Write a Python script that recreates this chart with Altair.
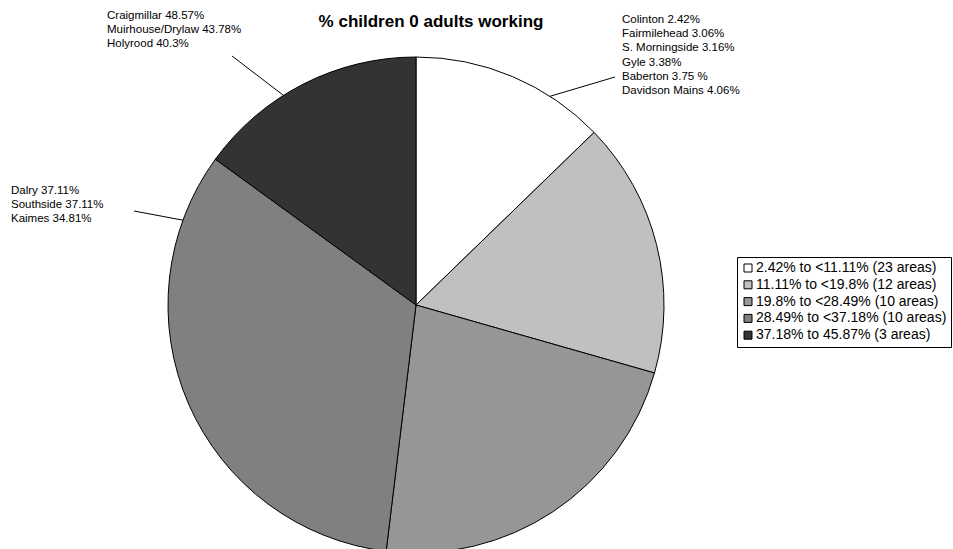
import math
import altair as alt
import pandas as pd

# Bands of "% children 0 adults working" and each band's share of the pie (%)
bands = [
    "2.42% to <11.11% (23 areas)",
    "11.11% to <19.8% (12 areas)",
    "19.8% to <28.49% (10 areas)",
    "28.49% to <37.18% (10 areas)",
    "37.18% to 45.87% (3 areas)",
]
shares = [12.75, 16.67, 22.5, 33.08, 15.0]
greys = ["#ffffff", "#c0c0c0", "#969696", "#808080", "#333333"]

# Callout texts
low_areas = [
    "Colinton 2.42%",
    "Fairmilehead 3.06%",
    "S. Morningside 3.16%",
    "Gyle 3.38%",
    "Baberton 3.75 %",
    "Davidson Mains 4.06%",
]
top_areas = ["Craigmillar 48.57%", "Muirhouse/Drylaw 43.78%", "Holyrood 40.3%"]
mid_areas = ["Dalry 37.11%", "Southside 37.11%", "Kaimes 34.81%"]

FONT = "Liberation Sans"
W, H = 953, 549
CX, CY, R = 416, 305, 248

pie_df = pd.DataFrame({"band": bands, "share": shares, "idx": range(len(bands))})

pie = (
    alt.Chart(pie_df)
    .mark_arc(radius=R, stroke="black", strokeWidth=1)
    .encode(
        theta=alt.Theta("share:Q", stack=True),
        order=alt.Order("idx:Q"),
        color=alt.Color(
            "band:N",
            sort=bands,
            scale=alt.Scale(domain=bands, range=greys),
            legend=alt.Legend(
                title=None,
                orient="none",
                legendX=737,
                legendY=257,
                direction="vertical",
                symbolType="square",
                symbolSize=64,
                symbolStrokeColor="black",
                symbolStrokeWidth=1,
                labelFont=FONT,
                labelFontSize=14,
                labelColor="black",
                labelLimit=0,
                labelOffset=1,
                rowPadding=2.8,
                padding=4,
                strokeColor="black",
                fillColor="white",
            ),
        ),
        x=alt.value(CX),
        y=alt.value(CY),
    )
)


def edge(angle_deg):
    a = math.radians(angle_deg)
    return CX + R * math.sin(a), CY - R * math.cos(a)


# Leader lines: from the pie rim out to the callout text
leaders = []
for ang, ex, ey in [(32.7, 615, 77), (327.7, 232, 56), (290.0, 134, 211)]:
    sx, sy = edge(ang)
    leaders.append({"x": sx, "y": sy, "x2": ex, "y2": ey})
leader_df = pd.DataFrame(leaders)

rules = (
    alt.Chart(leader_df)
    .mark_rule(color="black", strokeWidth=1)
    .encode(
        x=alt.X("x:Q", scale=None),
        y=alt.Y("y:Q", scale=None),
        x2="x2:Q",
        y2="y2:Q",
    )
)


def callout(lines, x, y):
    return (
        alt.Chart(alt.Data(values=[{"k": 0}]))
        .mark_text(
            text=lines,
            font=FONT,
            fontSize=11.5,
            lineHeight=14.2,
            align="left",
            baseline="top",
            color="black",
        )
        .encode(x=alt.value(x), y=alt.value(y))
    )


title = (
    alt.Chart(alt.Data(values=[{"k": 0}]))
    .mark_text(
        text="% children 0 adults working",
        font=FONT,
        fontSize=17,
        fontWeight="bold",
        align="center",
        baseline="middle",
        color="black",
    )
    .encode(x=alt.value(431), y=alt.value(22))
)

chart = (
    alt.layer(
        pie,
        rules,
        callout(low_areas, 622, 14),
        callout(top_areas, 107, 10),
        callout(mid_areas, 11, 185),
        title,
    )
    .properties(width=W, height=H, autosize="none", padding=0, background="white")
    .configure_view(stroke=None)
)

chart.save("out.html", embed_options={"renderer": "svg", "actions": False})
